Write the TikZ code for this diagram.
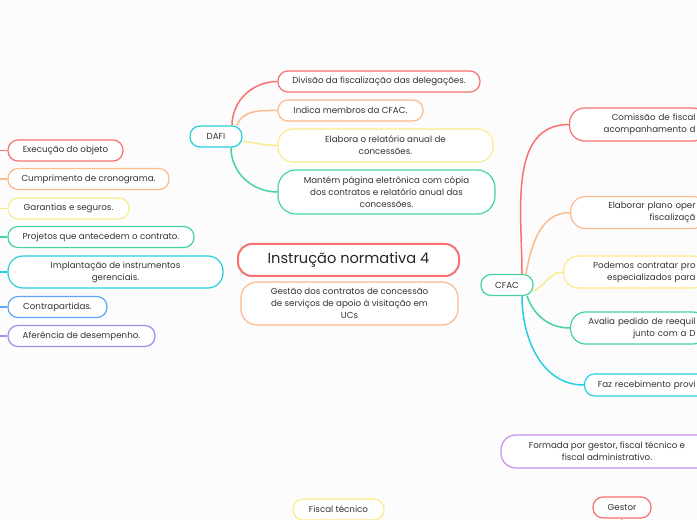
\documentclass[tikz,border=0pt]{standalone}
\usepackage{fontspec}
\setmainfont{Poppins}
\definecolor{cred}{HTML}{F87171}
\definecolor{corange}{HTML}{FDBA8C}
\definecolor{cyellow}{HTML}{FCEB8A}
\definecolor{cgreen}{HTML}{45D4A0}
\definecolor{ccyan}{HTML}{26CFE0}
\definecolor{cblue}{HTML}{60A5FA}
\definecolor{cviolet}{HTML}{9D8DF1}
\definecolor{cpurple}{HTML}{C48EF0}
\definecolor{ctext}{HTML}{333333}
\definecolor{cbg}{HTML}{FCFCFC}
\tikzset{
  box/.style={draw=#1, line width=1.2pt, rounded corners=10pt, fill=white,
    inner sep=0pt, align=center, text=ctext,
    font=\fontsize{8.7}{12}\selectfont},
  cutbox/.style={box=#1, anchor=west, align=right, inner xsep=12pt, inner ysep=0pt},
  link/.style={draw=#1, line width=1.5pt},
}
\begin{document}
\begin{tikzpicture}[x=1pt,y=1pt]
\useasboundingbox (0,0) rectangle (697,520);
\fill[cbg] (0,0) rectangle (697,520);
\clip (0,0) rectangle (697,520);

% central
\node[box=cred, line width=2pt, rounded corners=14pt, minimum width=221pt, minimum height=32pt,
  font=\fontsize{14.6}{16}\selectfont, text=black!85] (title) at (348.5,260) {Instrução normativa 4};
\node[box=corange, rounded corners=16pt, minimum width=217pt, minimum height=43pt] (sub) at (349.5,216.5)
  {Gestão dos contratos de concessão\\de serviços de apoio à visitação em\\UCs};

% DAFI branch
\node[box=ccyan, minimum width=52pt, minimum height=21pt] (dafi) at (216,383.5) {DAFI};
\node[box=cred, minimum width=202pt, minimum height=21pt] (d1) at (379,438.5) {Divisão da fiscalização das delegações.};
\node[box=corange, minimum width=145pt, minimum height=21pt] (d2) at (350.5,409.5) {Indica membros da CFAC.};
\node[box=cyellow, rounded corners=15pt, minimum width=215pt, minimum height=33pt] (d3) at (385.5,374.5) {Elabora o relatório anual de\\concessões.};
\node[box=cgreen, rounded corners=18pt, minimum width=217pt, minimum height=44pt] (d4) at (386.5,328) {Mantém página eletrônica com cópia\\dos contratos e relatório anual das\\concessões.};

\draw[link=cred] ([xshift=16pt]dafi.north) to[out=90,in=180] (d1.west);
\draw[link=corange] ([xshift=21pt]dafi.north) to[out=70,in=180] (d2.west);
\draw[link=cyellow] ([yshift=-5pt]dafi.east) to[out=-5,in=180] (d3.west);
\draw[link=cgreen] ([xshift=15pt]dafi.south) to[out=-90,in=180] (d4.west);

% left column
\node[box=cred, minimum width=115pt, minimum height=21pt] (l1) at (65.5,369.5) {Execução do objeto};
\node[box=corange, minimum width=161pt, minimum height=21pt] (l2) at (88.5,341) {Cumprimento de cronograma.};
\node[box=cyellow, minimum width=121pt, minimum height=21pt] (l3) at (68.5,311.5) {Garantias e seguros.};
\node[box=cgreen, minimum width=186pt, minimum height=21pt] (l4) at (101,283) {Projetos que antecedem o contrato.};
\node[box=ccyan, rounded corners=15pt, minimum width=215pt, minimum height=32pt] (l5) at (115.5,248) {Implantação de instrumentos\\gerenciais.};
\node[box=cblue, minimum width=99pt, minimum height=21pt] (l6) at (57.5,213) {Contrapartidas.};
\node[box=cviolet, minimum width=147pt, minimum height=21pt] (l7) at (81.5,184) {Aferência de desempenho.};

\coordinate (s1) at (-20,369.5);
\coordinate (s2) at (-20,341);
\coordinate (s3) at (-20,311.5);
\coordinate (s4) at (-20,283);
\coordinate (s5) at (-20,248);
\coordinate (s6) at (-20,213);
\coordinate (s7) at (-20,184);
\draw[link=cred] (s1) -- (l1.west);
\draw[link=corange] (s2) -- (l2.west);
\draw[link=cyellow] (s3) -- (l3.west);
\draw[link=cgreen] (s4) -- (l4.west);
\draw[link=ccyan] (s5) -- (l5.west);
\draw[link=cblue] (s6) -- (l6.west);
\draw[link=cviolet] (s7) -- (l7.west);

% CFAC branch
\node[box=cgreen, minimum width=52pt, minimum height=21pt] (cfac) at (507,235) {CFAC};
\node[cutbox=cred, rounded corners=15pt, text width=114pt, minimum height=33pt] (c1) at (569,395.5) {Comissão de fiscal\\acompanhamento d};
\node[cutbox=corange, rounded corners=15pt, text width=113pt, minimum height=32pt] (c2) at (570,307.5) {Elaborar plano oper\\fiscalizaçã};
\node[cutbox=cyellow, rounded corners=15pt, text width=120pt, minimum height=32pt] (c3) at (563,248) {Podemos contratar pro\\especializados para};
\node[cutbox=cgreen, rounded corners=15pt, text width=113pt, minimum height=32pt] (c4) at (570,192) {Avalia pedido de reequil\\junto com a D};
\node[cutbox=ccyan, text width=99pt, minimum height=22pt] (c5) at (584,135) {Faz recebimento provi};

\draw[link=cred] ([xshift=15pt]cfac.north) to[out=90,in=180] (c1.west);
\draw[link=corange] ([xshift=19pt]cfac.north) to[out=80,in=180] (c2.west);
\draw[link=cyellow] ([yshift=-6pt]cfac.east) to[out=25,in=180] (c3.west);
\draw[link=cgreen] ([xshift=20pt]cfac.south) to[out=-70,in=180] (c4.west);
\draw[link=ccyan] ([xshift=15pt]cfac.south) to[out=-90,in=180] (c5.west);

% bottom
\node[box=cpurple, rounded corners=15pt, minimum width=212pt, minimum height=33pt] (formada) at (607,68.5) {Formada por gestor, fiscal técnico e\\fiscal administrativo.};
\node[box=cred, minimum width=58pt, minimum height=21pt] (gestor) at (622,12.5) {Gestor};
\coordinate (gdown) at (622,-20);
\draw[link=corange] (gestor.south) -- (gdown);
\node[box=cyellow, minimum width=91pt, minimum height=21pt] (fiscal) at (338.5,10.5) {Fiscal técnico};
\end{tikzpicture}
\end{document}
